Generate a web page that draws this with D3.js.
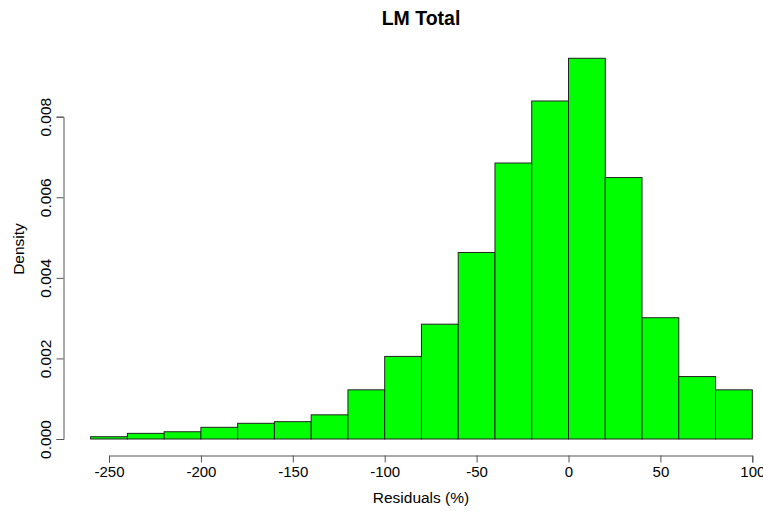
<!DOCTYPE html>
<html><head><meta charset="utf-8">
<script src="https://cdn.jsdelivr.net/npm/d3@7"></script>
<style>body{margin:0;background:#fff}svg{display:block}text{font-family:"Liberation Sans",Arial,sans-serif}</style>
</head><body>
<svg id="c" width="763" height="511"></svg>
<script>
const binStarts = [-260,-240,-220,-200,-180,-160,-140,-120,-100,-80,-60,-40,-20,0,20,40,60,80];
const binWidth = 20;
const density = [0.000057,0.00014,0.00018,0.00029,0.00039,0.00043,0.00060,0.00122,0.00205,0.00285,0.00463,0.00685,0.00839,0.00945,0.00649,0.00301,0.00155,0.00122];
const xTicks = [-250,-200,-150,-100,-50,0,50,100];
const yTicks = [0,0.002,0.004,0.006,0.008];

const svg = d3.select("#c");
const x = d3.scaleLinear().domain([-250,100]).range([109,752.3]);
const y = d3.scaleLinear().domain([0,0.008]).range([439,116.7]);

svg.append("g").selectAll("rect").data(binStarts).join("rect")
  .attr("x", d=>x(d)).attr("width", d=>x(d+binWidth)-x(d))
  .attr("y", (d,i)=>y(density[i])).attr("height",(d,i)=>y(0)-y(density[i]))
  .attr("fill","#00ff00").attr("stroke","#222").attr("stroke-width",1);

const xa = svg.append("g").attr("transform","translate(0,455.5)")
  .call(d3.axisBottom(x).tickValues(xTicks).tickSize(7).tickPadding(4).tickFormat(d=>String(d)));
xa.select(".domain").attr("stroke","#555");
xa.selectAll(".tick line").attr("stroke","#555");
xa.selectAll("text").attr("font-size","15px").attr("fill","#000").attr("font-family","Liberation Sans, Arial, sans-serif");

const ya = svg.append("g").attr("transform","translate(63.5,0)")
  .call(d3.axisLeft(y).tickValues(yTicks).tickSize(7).tickFormat(d3.format(".3f")));
ya.select(".domain").attr("stroke","#555");
ya.selectAll(".tick line").attr("stroke","#555");
ya.selectAll(".tick text").attr("font-size","15.5px").attr("fill","#000")
  .attr("font-family","Liberation Sans, Arial, sans-serif")
  .attr("text-anchor","middle").attr("transform","rotate(-90)")
  .attr("x", 0).attr("y",-13).attr("dy","0");

svg.append("text").attr("x",421).attr("y",25).attr("text-anchor","middle")
  .attr("font-size","19.5px").attr("font-weight","bold").text("LM Total");
svg.append("text").attr("x",421).attr("y",503).attr("text-anchor","middle")
  .attr("font-size","15.5px").text("Residuals (%)");
svg.append("text").attr("transform","translate(24,249) rotate(-90)").attr("text-anchor","middle")
  .attr("font-size","15.5px").text("Density");
</script>
</body></html>
